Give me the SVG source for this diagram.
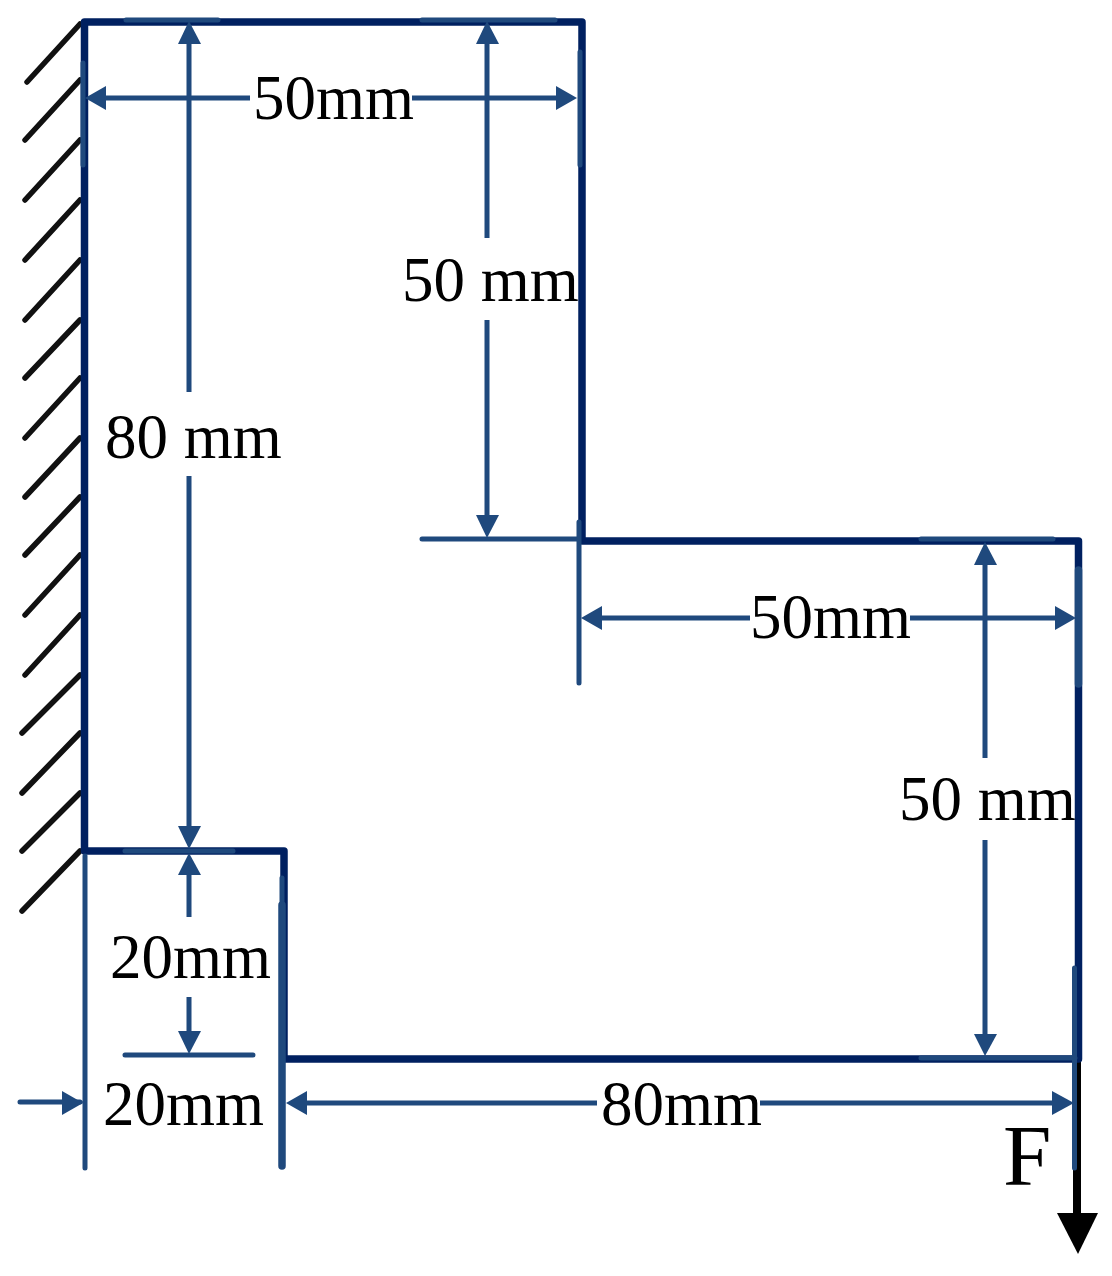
<svg xmlns="http://www.w3.org/2000/svg" width="1112" height="1276" viewBox="0 0 1112 1276">
<style>
.o{fill:none;stroke:#002060;stroke-width:7.500;stroke-linejoin:round;stroke-linecap:round}
.d{fill:none;stroke:#1f497d;stroke-width:5;stroke-linecap:round}
.t{fill:none;stroke:#1f497d;stroke-width:7.500;stroke-linecap:round}
.e{fill:none;stroke:#1f497d;stroke-width:5}
.h{fill:none;stroke:#111;stroke-width:5.500;stroke-linecap:round}
.a{fill:#1f497d}
text{font-family:"Liberation Serif","Times New Roman",serif;font-size:63px;fill:#000}
</style>
<rect width="1112" height="1276" fill="#fff"/>
<g id="hatch">
<path class="h" d="M80 24L27 82M80 80L25 140M80 140L25 200M80 200L25 260M80 260L25 320M80 320L25 378M80 378L25 438M80 438L25 497M80 497L25 555M80 555L25 615M80 615L25 675M80 675L22 733M80 733L22 793M80 793L22 851M80 851L22 911"/>
</g>
<g id="force">
<path d="M1077 1059V1215" fill="none" stroke="#000" stroke-width="8"/>
<path d="M1057 1213H1098L1078 1254Z" fill="#000"/>
</g>
<g id="outline">
<path class="o" d="M84.500 850V22H582V541H1078.500V1059H284V851H84.500"/>
</g>
<g id="connectors">
<path class="d" d="M126 20H218M422 20H555M921 539H1053M125 851H233M921 1058H1075"/>
<path class="d" d="M83 63V165M580 52V165M1074.500 968V1168M282 878V905M85 856V1168M579 522V683M422 539H578M125 1055H253M20 1102H80"/>
<path class="t" d="M282 905V1166M1078.500 570V684"/>
<path class="e" d="M90 98H250M412 98H562M189 30V392M189 476V835M487 30V238M487 320V520M595 618H750M910 618H1060M985 550V758M985 840V1040M189 865V917M189 997V1040M300 1103H597M760 1103H1058"/>
</g>
<g id="arrowheads" class="a">
<path d="M85 98L106 86V110Z"/><path d="M577 98L556 86V110Z"/>
<path d="M189 21L178 44H201Z"/><path d="M487 21L476 44H499Z"/>
<path d="M487 538L476 515H499Z"/><path d="M189 849L178 826H201Z"/>
<path d="M189 853L178 875H201Z"/><path d="M189 1054L178 1031H201Z"/>
<path d="M581 618L602 606V630Z"/><path d="M1076 618L1055 606V630Z"/>
<path d="M985 542L974 565H997Z"/><path d="M985 1056L974 1034H997Z"/>
<path d="M83 1103L62 1091V1115Z"/><path d="M286 1103L307 1091V1115Z"/>
<path d="M1074 1103L1052 1091V1115Z"/>
</g>
<g id="labels">
<text x="253" y="119">50mm</text>
<text x="402" y="301">50 mm</text>
<text x="105" y="458">80 mm</text>
<text x="750" y="638">50mm</text>
<text x="899" y="820">50 mm</text>
<text x="110" y="978">20mm</text>
<text x="103" y="1125">20mm</text>
<text x="601" y="1125">80mm</text>
<text x="1003" y="1185" style="font-size:87px">F</text>
</g>
</svg>
